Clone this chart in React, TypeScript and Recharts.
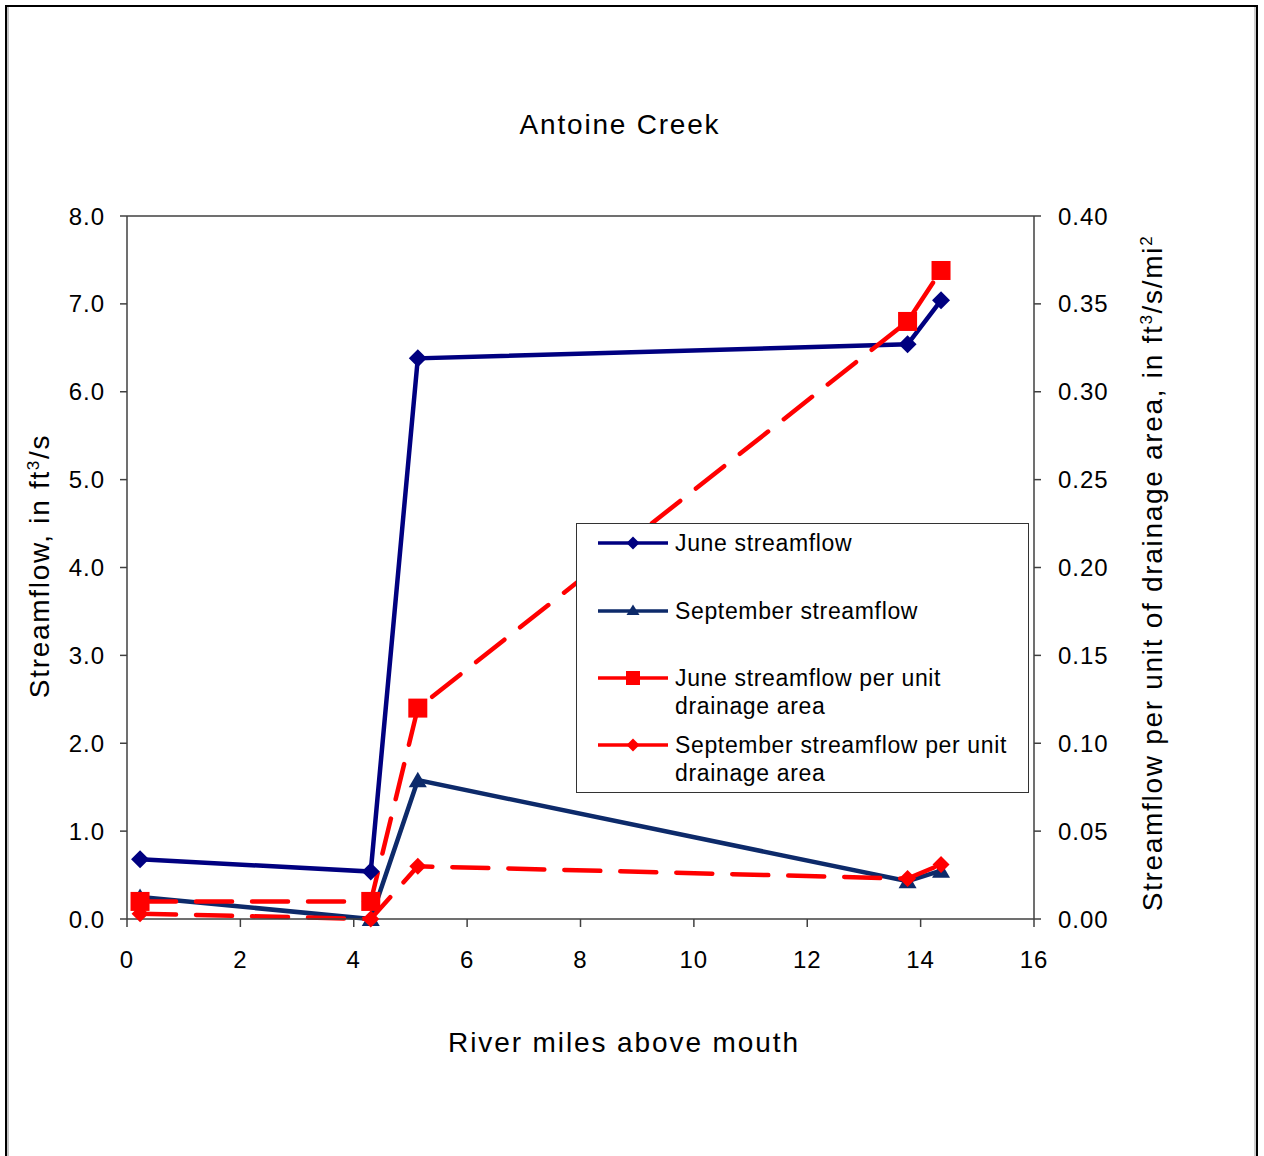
import React from "react";
import { LineChart, Line, XAxis, YAxis, ReferenceLine } from "recharts";

// River mile of each measurement site
const miles = [0.23, 4.3, 5.13, 13.77, 14.36];
// Streamflow, ft3/s
const juneFlow = [0.68, 0.54, 6.38, 6.54, 7.04];
const septFlow = [0.25, 0, 1.58, 0.43, 0.55];
// Streamflow per unit drainage area, ft3/s/mi2
const juneUnit = [0.01, 0.01, 0.12, 0.34, 0.369];
const septUnit = [0.003, 0, 0.03, 0.023, 0.031];

const xTicks = [0, 2, 4, 6, 8, 10, 12, 14, 16];
const leftTicks = [0, 1, 2, 3, 4, 5, 6, 7, 8];
const rightTicks = [0, 0.05, 0.1, 0.15, 0.2, 0.25, 0.3, 0.35, 0.4];

const data = miles.map((mile, i) => ({
  mile,
  juneFlow: juneFlow[i],
  septFlow: septFlow[i],
  juneUnit: juneUnit[i],
  septUnit: septUnit[i],
}));

const FONT = "'Liberation Sans', Arial, sans-serif";
const NAVY = "#000080";
const DARK_NAVY = "#0D2A6A";
const RED = "#FF0000";
const AXIS = "#404040";

const W = 1264;
const H = 1156;

const Diamond = ({ cx, cy, r, fill }: any) => (
  <polygon
    points={`${cx},${cy - r} ${cx + r},${cy} ${cx},${cy + r} ${cx - r},${cy}`}
    fill={fill}
  />
);
const Triangle = ({ cx, cy, fill }: any) => (
  <polygon
    points={`${cx},${cy - 8.5} ${cx + 9},${cy + 7} ${cx - 9},${cy + 7}`}
    fill={fill}
  />
);
const Square = ({ cx, cy, fill }: any) => (
  <rect x={cx - 9.5} y={cy - 9.5} width={19} height={19} fill={fill} />
);

const tickStyle = { fontSize: 24, fill: "#000", fontFamily: FONT, letterSpacing: 1 };

const legendItems = [
  { label: ["June streamflow"], color: NAVY, marker: "diamond" },
  { label: ["September streamflow"], color: DARK_NAVY, marker: "triangle" },
  { label: ["June streamflow per unit", "drainage area"], color: RED, marker: "square" },
  { label: ["September streamflow per unit", "drainage area"], color: RED, marker: "rdiamond" },
];

function LegendIcon({ color, marker }: { color: string; marker: string }) {
  return (
    <svg width={70} height={20} style={{ display: "block" }}>
      <line x1={0} y1={10} x2={70} y2={10} stroke={color} strokeWidth={3.5} />
      {marker === "diamond" && <Diamond cx={35} cy={10} r={6.5} fill={color} />}
      {marker === "triangle" && (
        <polygon points="35,3.5 41.5,14 28.5,14" fill={color} />
      )}
      {marker === "square" && <rect x={28} y={3} width={14} height={14} fill={color} />}
      {marker === "rdiamond" && <Diamond cx={35} cy={10} r={6.5} fill={color} />}
    </svg>
  );
}

function ChartLegend() {
  const rowTops = [529, 597, 664, 731];
  return (
    <div
      style={{
        position: "absolute",
        left: 576,
        top: 523,
        width: 451,
        height: 268,
        border: "1px solid #333",
        background: "#fff",
        fontFamily: FONT,
        fontSize: 23,
        letterSpacing: 0.65,
      }}
    >
      {legendItems.map((item, i) => (
        <div
          key={i}
          style={{
            position: "absolute",
            left: 21,
            top: rowTops[i] - 523 - 1,
            display: "flex",
            alignItems: "flex-start",
          }}
        >
          <div style={{ marginTop: 4 }}>
            <LegendIcon color={item.color} marker={item.marker} />
          </div>
          <div style={{ marginLeft: 7, lineHeight: "28px" }}>
            {item.label.map((l, j) => (
              <div key={j}>{l}</div>
            ))}
          </div>
        </div>
      ))}
    </div>
  );
}

export default function App() {
  return (
    <div style={{ position: "absolute", left: 0, top: 0, width: W, height: H, background: "#fff" }}>
      <LineChart
        width={W}
        height={H}
        data={data}
        margin={{ top: 216, right: 170, bottom: 197, left: 67 }}
      >
        <XAxis
          dataKey="mile"
          type="number"
          domain={[0, 16]}
          ticks={xTicks}
          interval={0}
          height={40}
          tickSize={8}
          tickMargin={24}
          stroke={AXIS}
          strokeWidth={1.5}
          tick={tickStyle}
        />
        <YAxis
          yAxisId="left"
          domain={[0, 8]}
          ticks={leftTicks}
          interval={0}
          width={60}
          tickSize={7}
          tickMargin={15}
          tickFormatter={(v: number) => v.toFixed(1)}
          stroke={AXIS}
          strokeWidth={1.5}
          tick={tickStyle}
        />
        <YAxis
          yAxisId="right"
          orientation="right"
          domain={[0, 0.4]}
          ticks={rightTicks}
          interval={0}
          width={60}
          tickSize={7}
          tickMargin={17}
          tickFormatter={(v: number) => v.toFixed(2)}
          stroke={AXIS}
          strokeWidth={1.5}
          tick={tickStyle}
        />
        <ReferenceLine yAxisId="left" y={8} stroke={AXIS} strokeWidth={1.5} />
        <Line
          yAxisId="left"
          dataKey="juneFlow"
          stroke={NAVY}
          strokeWidth={4.5}
          isAnimationActive={false}
          activeDot={false}
          dot={(p: any) => <Diamond key={p.index} cx={p.cx} cy={p.cy} r={9} fill={NAVY} />}
        />
        <Line
          yAxisId="left"
          dataKey="septFlow"
          stroke={DARK_NAVY}
          strokeWidth={4.5}
          isAnimationActive={false}
          activeDot={false}
          dot={(p: any) => <Triangle key={p.index} cx={p.cx} cy={p.cy} fill={DARK_NAVY} />}
        />
        <Line
          yAxisId="right"
          dataKey="juneUnit"
          stroke={RED}
          strokeWidth={4.5}
          strokeDasharray="36 20"
          strokeLinecap="round"
          isAnimationActive={false}
          activeDot={false}
          dot={(p: any) => <Square key={p.index} cx={p.cx} cy={p.cy} fill={RED} />}
        />
        <Line
          yAxisId="right"
          dataKey="septUnit"
          stroke={RED}
          strokeWidth={4.5}
          strokeDasharray="36 20"
          strokeLinecap="round"
          isAnimationActive={false}
          activeDot={false}
          dot={(p: any) => <Diamond key={p.index} cx={p.cx} cy={p.cy} r={8.5} fill={RED} />}
        />
      </LineChart>

      {/* titles and page frame */}
      <svg
        width={W}
        height={H}
        style={{ position: "absolute", left: 0, top: 0, pointerEvents: "none" }}
        fontFamily={FONT}
      >
        <rect x={5} y={5} width={2} height={H} fill="#000" />
        <rect x={7.5} y={7} width={1} height={H} fill="#888" />
        <rect x={5} y={5} width={1253} height={2} fill="#000" />
        <rect x={1256} y={5} width={2} height={H} fill="#000" />
        <rect x={1254.5} y={7} width={1} height={H} fill="#999" />

        <text x={620} y={134} textAnchor="middle" fontSize={28} letterSpacing={1.8}>
          Antoine Creek
        </text>
        <text x={624} y={1052} textAnchor="middle" fontSize={28} letterSpacing={1.9}>
          River miles above mouth
        </text>
        <text
          x={49}
          y={566}
          textAnchor="middle"
          fontSize={28}
          letterSpacing={1.7}
          transform="rotate(-90 49 566)"
        >
          Streamflow, in ft
          <tspan dy={-10} fontSize={17}>3</tspan>
          <tspan dy={10}>/s</tspan>
        </text>
        <text
          x={1162}
          y={573}
          textAnchor="middle"
          fontSize={28}
          letterSpacing={1.7}
          transform="rotate(-90 1162 573)"
        >
          Streamflow per unit of drainage area, in ft
          <tspan dy={-10} fontSize={17}>3</tspan>
          <tspan dy={10}>/s/mi</tspan>
          <tspan dy={-10} fontSize={17}>2</tspan>
        </text>
      </svg>

      <ChartLegend />
    </div>
  );
}
